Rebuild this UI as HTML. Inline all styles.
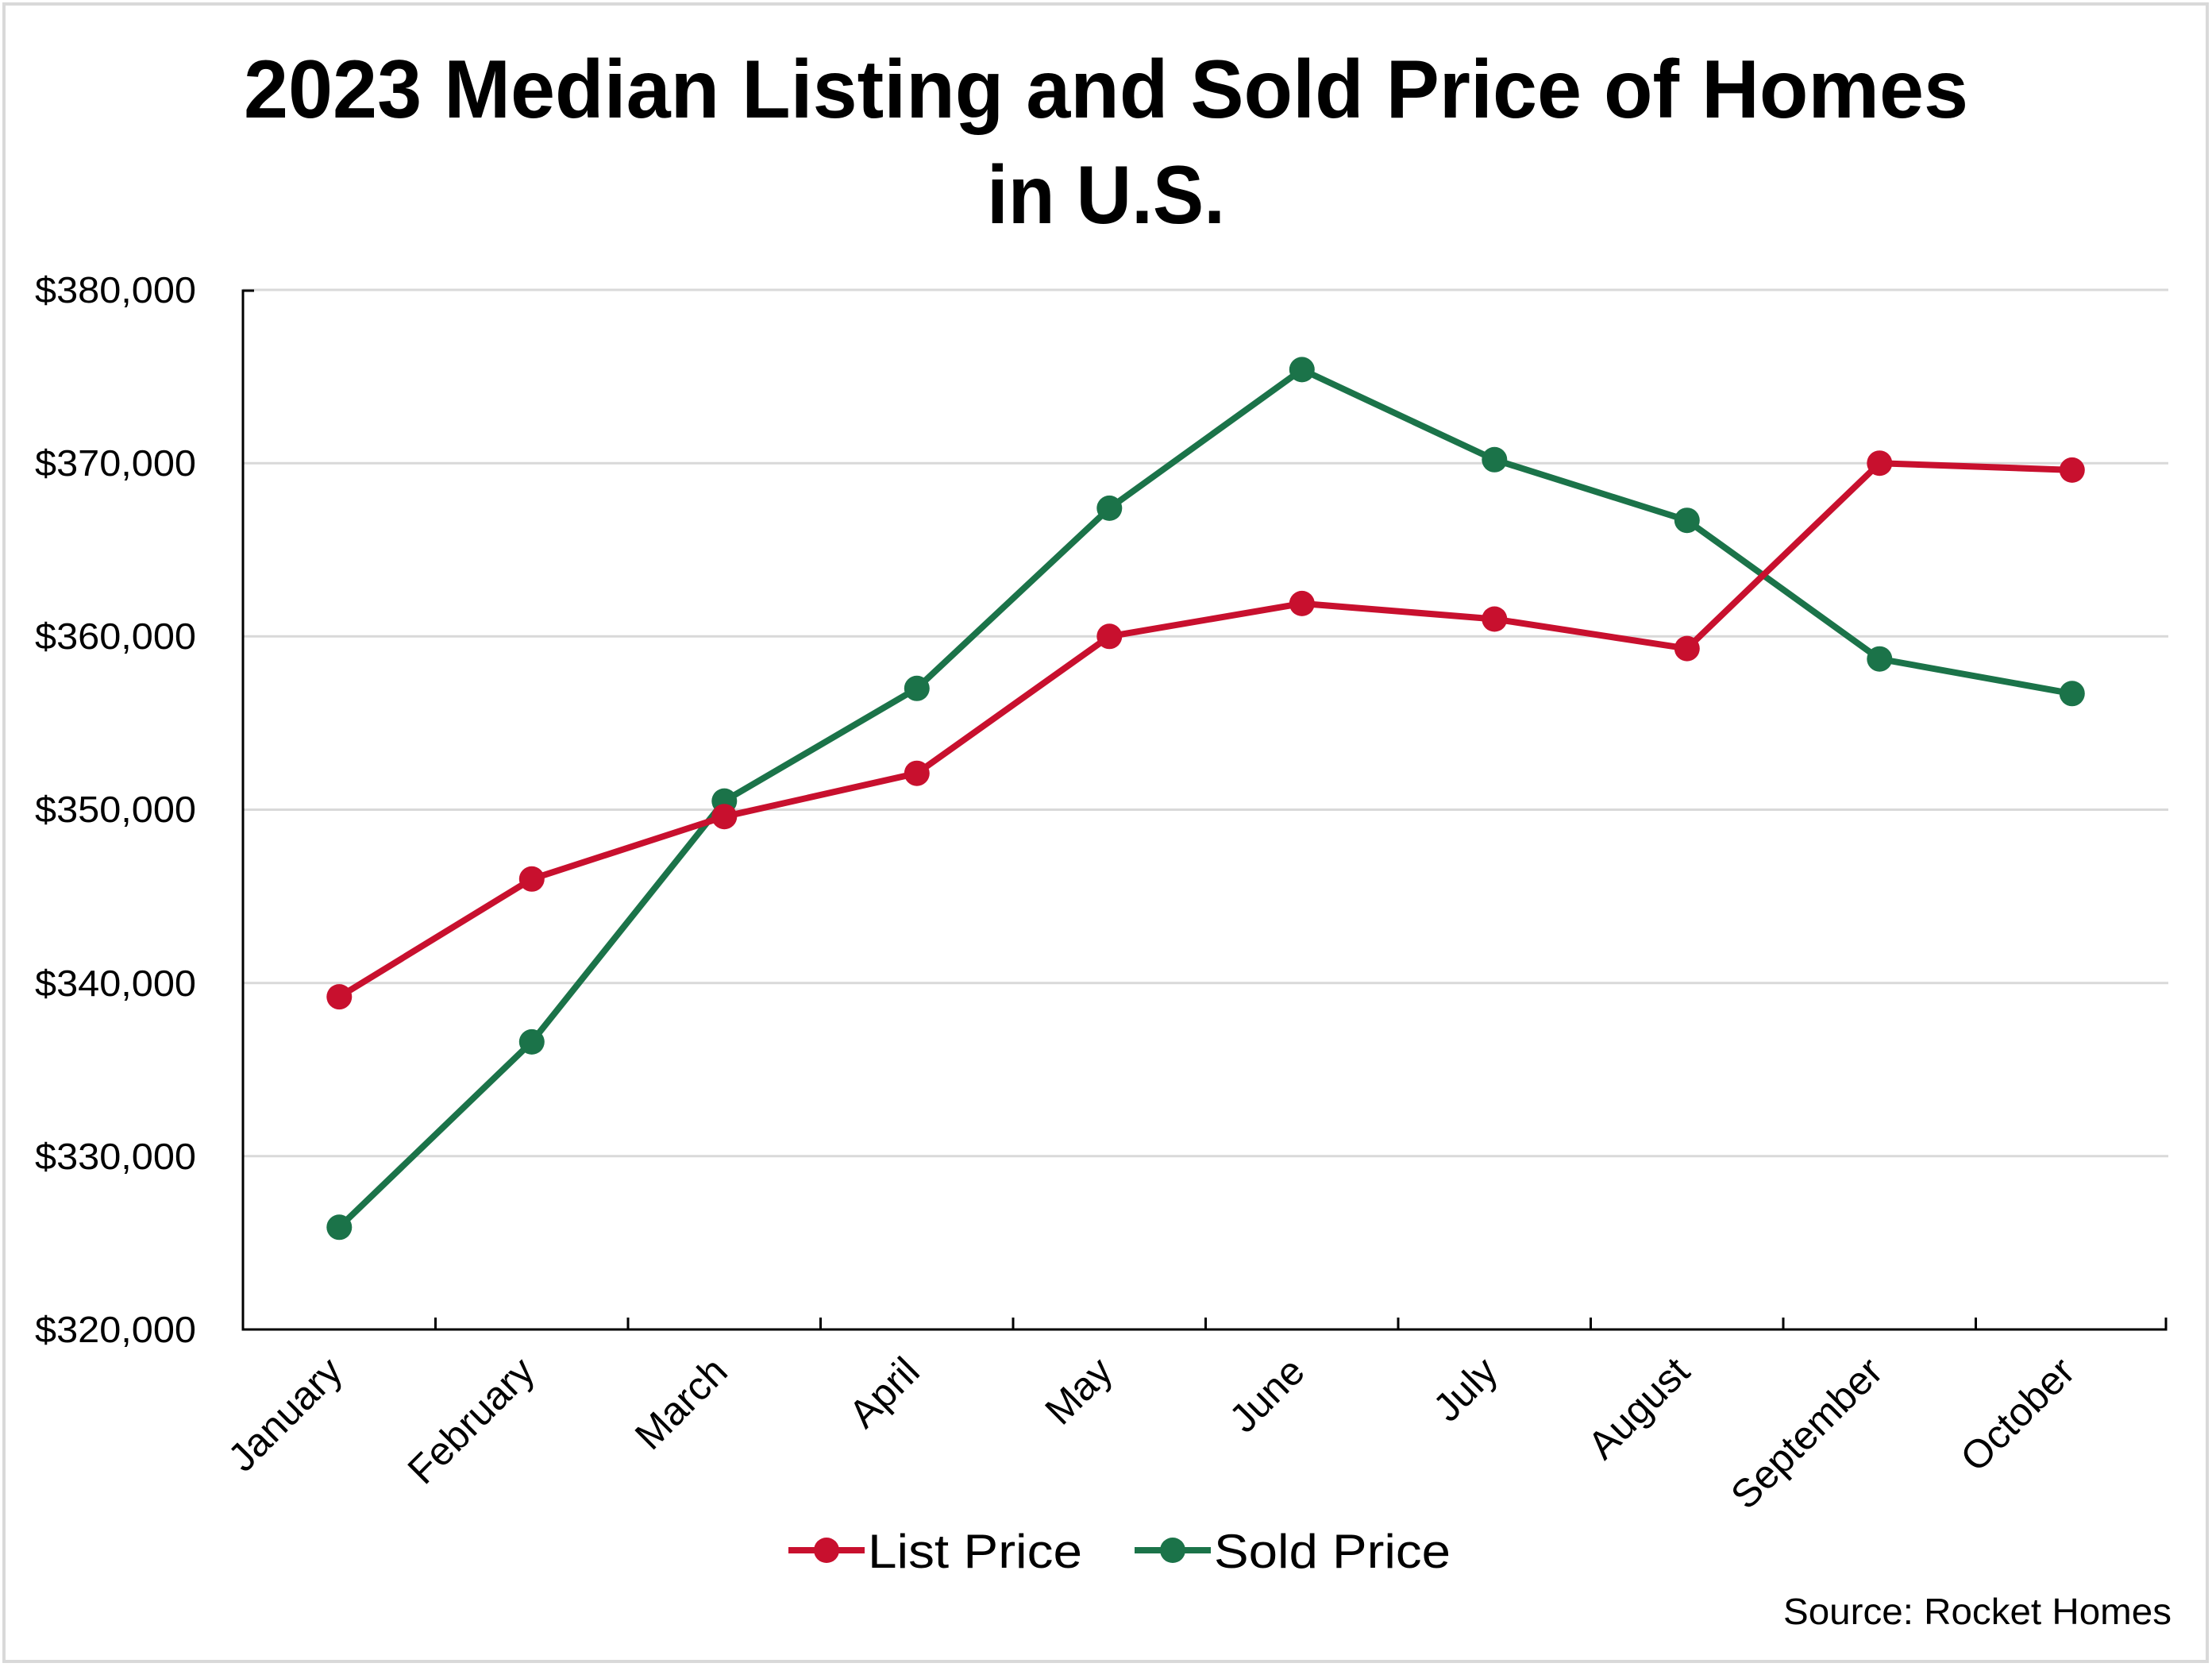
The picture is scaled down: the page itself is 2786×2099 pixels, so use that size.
<!DOCTYPE html>
<html><head><meta charset="utf-8"><style>html,body{margin:0;padding:0;background:#fff}svg{display:block}</style></head>
<body>
<svg width="2786" height="2099" viewBox="0 0 2786 2099" xmlns="http://www.w3.org/2000/svg" font-family="Liberation Sans, sans-serif">
<rect x="5" y="5" width="2775" height="2087" fill="#fff" stroke="#d9d9d9" stroke-width="4"/>
<text x="1393" y="148" font-size="104" font-weight="bold" text-anchor="middle" textLength="2172" lengthAdjust="spacingAndGlyphs">2023 Median Listing and Sold Price of Homes</text>
<text x="1393" y="281" font-size="104" font-weight="bold" text-anchor="middle" textLength="300" lengthAdjust="spacingAndGlyphs">in U.S.</text>
<g stroke="#d9d9d9" stroke-width="3">
<line x1="306" y1="365" x2="2731" y2="365"/><line x1="306" y1="583.2" x2="2731" y2="583.2"/><line x1="306" y1="801.3" x2="2731" y2="801.3"/><line x1="306" y1="1019.5" x2="2731" y2="1019.5"/><line x1="306" y1="1237.7" x2="2731" y2="1237.7"/><line x1="306" y1="1455.8" x2="2731" y2="1455.8"/>
</g>
<g stroke="#000" stroke-width="3" fill="none">
<polyline points="320,366 306,366 306,1674 2728,1674 2728,1659"/>
<line x1="548.5" y1="1674" x2="548.5" y2="1659"/><line x1="791" y1="1674" x2="791" y2="1659"/><line x1="1033.5" y1="1674" x2="1033.5" y2="1659"/><line x1="1276" y1="1674" x2="1276" y2="1659"/><line x1="1518.5" y1="1674" x2="1518.5" y2="1659"/><line x1="1761" y1="1674" x2="1761" y2="1659"/><line x1="2003.5" y1="1674" x2="2003.5" y2="1659"/><line x1="2246" y1="1674" x2="2246" y2="1659"/><line x1="2488.5" y1="1674" x2="2488.5" y2="1659"/>
</g>
<g font-size="46" text-anchor="end" fill="#000">
<text x="247" y="381" textLength="203" lengthAdjust="spacingAndGlyphs">$380,000</text><text x="247" y="599" textLength="203" lengthAdjust="spacingAndGlyphs">$370,000</text><text x="247" y="817" textLength="203" lengthAdjust="spacingAndGlyphs">$360,000</text><text x="247" y="1035" textLength="203" lengthAdjust="spacingAndGlyphs">$350,000</text><text x="247" y="1254" textLength="203" lengthAdjust="spacingAndGlyphs">$340,000</text><text x="247" y="1472" textLength="203" lengthAdjust="spacingAndGlyphs">$330,000</text><text x="247" y="1690" textLength="203" lengthAdjust="spacingAndGlyphs">$320,000</text>
</g>
<g font-size="50" text-anchor="end" fill="#000">
<text transform="translate(434,1730) rotate(-45)">January</text>
<text transform="translate(676,1730) rotate(-45)">February</text>
<text transform="translate(919,1730) rotate(-45)">March</text>
<text transform="translate(1161,1730) rotate(-45)">April</text>
<text transform="translate(1404,1730) rotate(-45)">May</text>
<text transform="translate(1646,1730) rotate(-45)">June</text>
<text transform="translate(1889,1730) rotate(-45)">July</text>
<text transform="translate(2131,1730) rotate(-45)">August</text>
<text transform="translate(2374,1730) rotate(-45)">September</text>
<text transform="translate(2616,1730) rotate(-45)">October</text>
</g>
<g stroke="#1b7349" stroke-width="8" fill="#1b7349">
<polyline fill="none" stroke-linejoin="round" points="427.3,1545.3 669.8,1311.9 912.3,1008.6 1154.8,866.8 1397.3,639.9 1639.8,465.4 1882.3,578.8 2124.8,655.2 2367.3,829.7 2609.8,873.3"/>
<g stroke="none"><circle cx="427.3" cy="1545.3" r="16"/><circle cx="669.8" cy="1311.9" r="16"/><circle cx="912.3" cy="1008.6" r="16"/><circle cx="1154.8" cy="866.8" r="16"/><circle cx="1397.3" cy="639.9" r="16"/><circle cx="1639.8" cy="465.4" r="16"/><circle cx="1882.3" cy="578.8" r="16"/><circle cx="2124.8" cy="655.2" r="16"/><circle cx="2367.3" cy="829.7" r="16"/><circle cx="2609.8" cy="873.3" r="16"/></g>
</g>
<g stroke="#c8102e" stroke-width="8" fill="#c8102e">
<polyline fill="none" stroke-linejoin="round" points="427.3,1255.1 669.8,1106.8 912.3,1028.2 1154.8,973.7 1397.3,801.3 1639.8,759.9 1882.3,779.5 2124.8,816.6 2367.3,583.2 2609.8,591.9"/>
<g stroke="none"><circle cx="427.3" cy="1255.1" r="16"/><circle cx="669.8" cy="1106.8" r="16"/><circle cx="912.3" cy="1028.2" r="16"/><circle cx="1154.8" cy="973.7" r="16"/><circle cx="1397.3" cy="801.3" r="16"/><circle cx="1639.8" cy="759.9" r="16"/><circle cx="1882.3" cy="779.5" r="16"/><circle cx="2124.8" cy="816.6" r="16"/><circle cx="2367.3" cy="583.2" r="16"/><circle cx="2609.8" cy="591.9" r="16"/></g>
</g>
<line x1="993" y1="1952" x2="1089" y2="1952" stroke="#c8102e" stroke-width="8"/><circle cx="1041" cy="1952" r="16" fill="#c8102e"/>
<text x="1093" y="1974" font-size="60" textLength="270" lengthAdjust="spacingAndGlyphs">List Price</text>
<line x1="1429" y1="1952" x2="1525" y2="1952" stroke="#1b7349" stroke-width="8"/><circle cx="1477" cy="1952" r="16" fill="#1b7349"/>
<text x="1529" y="1974" font-size="60" textLength="298" lengthAdjust="spacingAndGlyphs">Sold Price</text>
<text x="2735" y="2045" font-size="46" text-anchor="end" textLength="489" lengthAdjust="spacingAndGlyphs">Source: Rocket Homes</text>
</svg>
</body></html>
